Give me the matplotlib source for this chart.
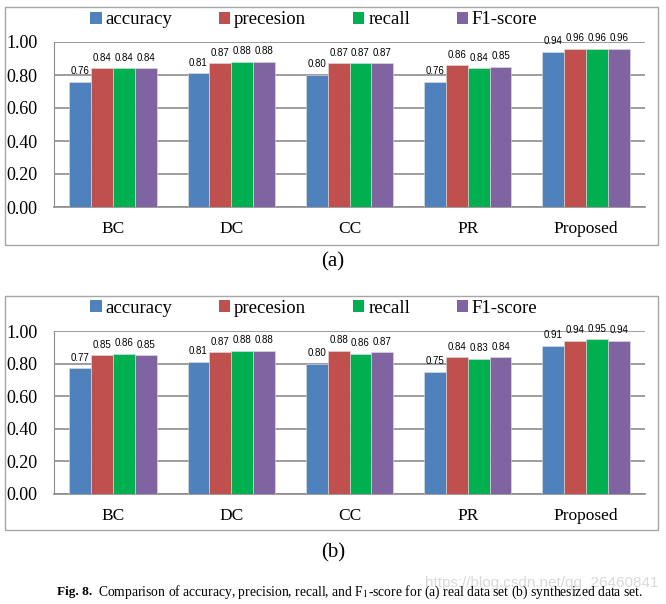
import numpy as np
import matplotlib
matplotlib.use("Agg")
import matplotlib.pyplot as plt
from matplotlib.patches import Patch, Rectangle

plt.rcParams['font.family'] = ['Liberation Serif', 'DejaVu Serif']
plt.rcParams['mathtext.fontset'] = 'stix'

# datos
metodos = ['BC', 'DC', 'CC', 'PR', 'Proposed']
series = ['accuracy', 'precesion', 'recall', 'F1-score']
colores = ['#4F81BD', '#C0504D', '#00B050', '#8064A2']

acc_a = [0.76, 0.81, 0.80, 0.76, 0.94]
pre_a = [0.84, 0.87, 0.87, 0.86, 0.96]
rec_a = [0.84, 0.88, 0.87, 0.84, 0.96]
f1_a = [0.84, 0.88, 0.87, 0.85, 0.96]

acc_b = [0.77, 0.81, 0.80, 0.75, 0.91]
pre_b = [0.85, 0.87, 0.88, 0.84, 0.94]
rec_b = [0.86, 0.88, 0.86, 0.83, 0.95]
f1_b = [0.85, 0.88, 0.87, 0.84, 0.94]

yticks = [0.0, 0.2, 0.4, 0.6, 0.8, 1.0]

W, H = 666, 604
fig = plt.figure(figsize=(W / 100, H / 100), dpi=100)
gris = '#8c8c8c'


def px(x0, y0, x1, y1):
    # pixel box -> figure fraction
    return [x0 / W, 1 - y1 / H, (x1 - x0) / W, (y1 - y0) / H]


def panel(ytop, ybot, datos, leg_y, box):
    # marco exterior
    fig.patches.append(Rectangle((box[0] / W, 1 - box[3] / H), (box[2] - box[0]) / W,
                                 (box[3] - box[1]) / H, transform=fig.transFigure,
                                 fill=False, edgecolor='#a6a6a6', lw=1.0))
    ax = fig.add_axes(px(54, ytop, 645, ybot))
    x = np.arange(len(metodos))
    ancho = 0.185
    for i, (vals, c) in enumerate(zip(datos, colores)):
        pos = x + (i - 1.5) * ancho
        bars = ax.bar(pos, vals, ancho, color=c, edgecolor='#e0e0e0', lw=0.4, zorder=3)
        for b, v in zip(bars, vals):
            ax.annotate('%.2f' % v, (b.get_x() + b.get_width() / 2, v), xytext=(0, 4),
                        textcoords='offset points', ha='center', va='bottom',
                        fontsize=7, family='Liberation Sans', zorder=4)
    ax.set_ylim(0, 1.0)
    ax.set_xlim(-0.5, 4.5)
    ax.set_yticks(yticks)
    ax.set_yticklabels(['%.2f' % t for t in yticks], fontsize=13)
    ax.set_xticks(x)
    ax.set_xticklabels(metodos, fontsize=12.5)
    ax.tick_params(axis='y', length=0, pad=12)
    ax.tick_params(axis='x', length=0, pad=10)
    ax.grid(axis='y', color=gris, lw=1.2, zorder=0)
    for s in ['top', 'right']:
        ax.spines[s].set_visible(False)
    ax.spines['left'].set_color(gris)
    ax.spines['bottom'].set_color(gris)
    ax.spines['bottom'].set_linewidth(1.2)
    handles = [Patch(facecolor=c, edgecolor='none') for c in colores]
    fig.legend(handles, series, loc='center', bbox_to_anchor=(314 / W, 1 - leg_y / H),
               ncol=4, frameon=False, fontsize=13.5, handlelength=0.6, handleheight=0.6,
               handletextpad=0.2, columnspacing=2.5)
    return ax


panel(42, 207, [acc_a, pre_a, rec_a, f1_a], 20, (5, 7, 658, 245))
panel(331, 494, [acc_b, pre_b, rec_b, f1_b], 308, (5, 296, 658, 530))

fig.text(333 / W, 1 - 262 / H, '(a)', ha='center', va='center', fontsize=15)
fig.text(333 / W, 1 - 553 / H, '(b)', ha='center', va='center', fontsize=15)

# marca de agua
fig.text(658 / W, 1 - 583 / H, 'https://blog.csdn.net/qq_26460841', ha='right', va='center',
         fontsize=11, color='#d0d0d0', alpha=0.8, family='Liberation Sans')

# pie de figura
t1 = fig.text(57 / W, 1 - 592 / H, 'Fig. 8.', fontsize=9.5, weight='bold', va='center')
fig.canvas.draw()
bb = t1.get_window_extent()
fig.text((bb.x1 + 6) / W, 1 - 592 / H,
         'Comparison of accuracy, precision, recall, and F$_1$-score for (a) real data set (b) synthesized data set.',
         fontsize=9.8, va='center')

fig.savefig('out.png', dpi=100)
